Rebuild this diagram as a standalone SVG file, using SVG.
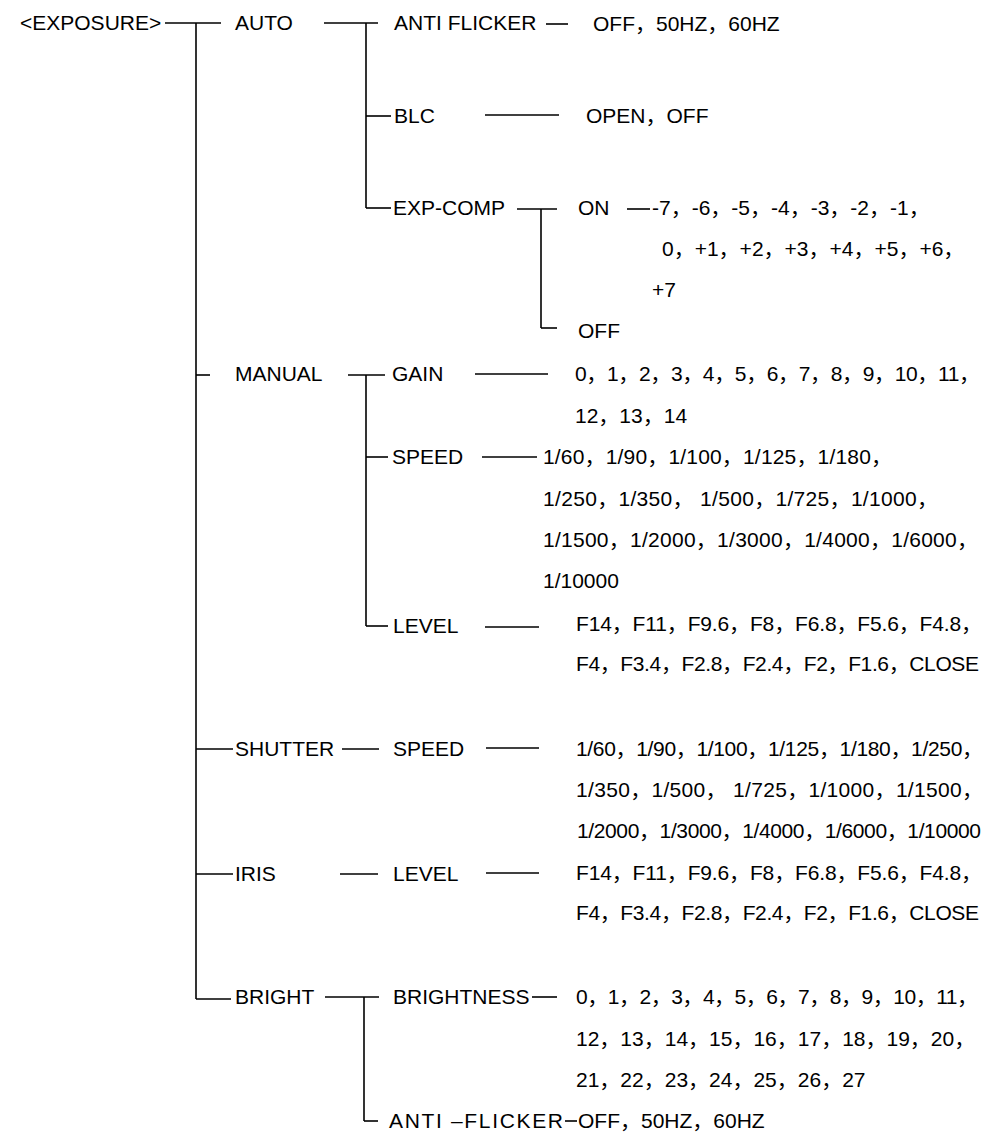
<svg xmlns="http://www.w3.org/2000/svg" width="982" height="1132" viewBox="0 0 982 1132">
<style>
text{font-family:"Liberation Sans","Noto Sans CJK SC",sans-serif;font-size:21px;fill:#000}
.c line{stroke:#000;stroke-width:1.6;fill:none}
</style>
<rect width="982" height="1132" fill="#fff"/>
<g class="c" id="connectors">
<line x1="165" y1="23" x2="221" y2="23"/>
<line x1="196" y1="23" x2="196" y2="999"/>
<line x1="196" y1="999" x2="231" y2="999"/>
<line x1="196" y1="375" x2="210" y2="375"/>
<line x1="196" y1="749" x2="233" y2="749"/>
<line x1="196" y1="874" x2="233" y2="874"/>
<line x1="324" y1="23" x2="378" y2="23"/>
<line x1="366" y1="23" x2="366" y2="208"/>
<line x1="366" y1="116" x2="391" y2="116"/>
<line x1="366" y1="208" x2="391" y2="208"/>
<line x1="546" y1="24" x2="568" y2="24"/>
<line x1="485" y1="115" x2="559" y2="115"/>
<line x1="517" y1="209" x2="557" y2="209"/>
<line x1="541" y1="209" x2="541" y2="328"/>
<line x1="541" y1="328" x2="557" y2="328"/>
<line x1="627" y1="209" x2="650" y2="209"/>
<line x1="348" y1="375" x2="385" y2="375"/>
<line x1="366" y1="375" x2="366" y2="626"/>
<line x1="366" y1="457" x2="388" y2="457"/>
<line x1="366" y1="626" x2="388" y2="626"/>
<line x1="475" y1="374" x2="548" y2="374"/>
<line x1="482" y1="457" x2="537" y2="457"/>
<line x1="485" y1="627" x2="539" y2="627"/>
<line x1="342" y1="749" x2="379" y2="749"/>
<line x1="486" y1="748" x2="539" y2="748"/>
<line x1="340" y1="874" x2="378" y2="874"/>
<line x1="486" y1="873" x2="539" y2="873"/>
<line x1="325" y1="997" x2="379" y2="997"/>
<line x1="364" y1="997" x2="364" y2="1121"/>
<line x1="364" y1="1121" x2="378" y2="1121"/>
<line x1="532" y1="997" x2="557" y2="997"/>
<line x1="565" y1="1121" x2="577" y2="1121"/>
</g>
<g id="n-exposure"><text x="20" y="30">&lt;EXPOSURE&gt;</text></g>
<g id="n-auto"><text x="235" y="30">AUTO</text></g>
<g id="n-antiflicker"><text x="394" y="30">ANTI FLICKER</text><text x="593" y="31">OFF，50HZ，60HZ</text></g>
<g id="n-blc"><text x="394" y="123">BLC</text><text x="586" y="123">OPEN，OFF</text></g>
<g id="n-expcomp"><text x="393" y="215">EXP-COMP</text></g>
<g id="n-on"><text x="578" y="215">ON</text>
<text x="652" y="215">-7，-6，-5，-4，-3，-2，-1，</text>
<text x="662" y="256">0，+1，+2，+3，+4，+5，+6，</text>
<text x="652" y="297">+7</text></g>
<g id="n-off"><text x="578" y="338">OFF</text></g>
<g id="n-manual"><text x="235" y="381">MANUAL</text></g>
<g id="n-gain"><text x="392" y="381">GAIN</text>
<text x="575" y="381" textLength="405">0，1，2，3，4，5，6，7，8，9，10，11，</text>
<text x="575" y="423">12，13，14</text></g>
<g id="n-speed"><text x="392" y="464">SPEED</text>
<text x="543" y="464" textLength="349">1/60，1/90，1/100，1/125，1/180，</text>
<text x="543" y="506" textLength="395" xml:space="preserve">1/250，1/350， 1/500，1/725，1/1000，</text>
<text x="543" y="547" textLength="435">1/1500，1/2000，1/3000，1/4000，1/6000，</text>
<text x="543" y="588">1/10000</text></g>
<g id="n-level"><text x="393" y="633">LEVEL</text>
<text x="576" y="631" textLength="406">F14，F11，F9.6，F8，F6.8，F5.6，F4.8，</text>
<text x="576" y="671" textLength="403">F4，F3.4，F2.8，F2.4，F2，F1.6，CLOSE</text></g>
<g id="n-shutter"><text x="235" y="756">SHUTTER</text></g>
<g id="n-shutter-speed"><text x="393" y="756">SPEED</text>
<text x="576" y="756" textLength="407">1/60，1/90，1/100，1/125，1/180，1/250，</text>
<text x="576" y="797" textLength="407" xml:space="preserve">1/350，1/500， 1/725，1/1000，1/1500，</text>
<text x="577" y="838" textLength="404">1/2000，1/3000，1/4000，1/6000，1/10000</text></g>
<g id="n-iris"><text x="235" y="881">IRIS</text></g>
<g id="n-iris-level"><text x="393" y="881">LEVEL</text>
<text x="576" y="880" textLength="406">F14，F11，F9.6，F8，F6.8，F5.6，F4.8，</text>
<text x="576" y="920" textLength="403">F4，F3.4，F2.8，F2.4，F2，F1.6，CLOSE</text></g>
<g id="n-bright"><text x="235" y="1004">BRIGHT</text></g>
<g id="n-brightness"><text x="393" y="1004">BRIGHTNESS</text>
<text x="576" y="1004" textLength="402">0，1，2，3，4，5，6，7，8，9，10，11，</text>
<text x="576" y="1046">12，13，14，15，16，17，18，19，20，</text>
<text x="576" y="1087">21，22，23，24，25，26，27</text></g>
<g id="n-anti-flicker2"><text x="389" y="1128" textLength="174">ANTI –FLICKER</text>
<text x="578" y="1128">OFF，50HZ，60HZ</text></g>
</svg>
